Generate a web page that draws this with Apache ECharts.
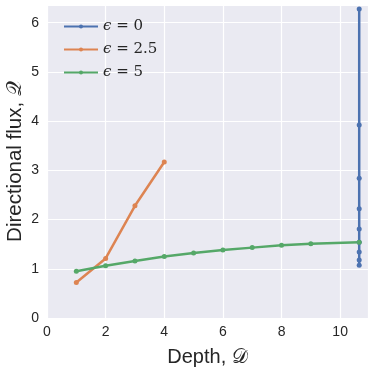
<!DOCTYPE html>
<html>
<head>
<meta charset="utf-8">
<script src="https://cdn.jsdelivr.net/npm/echarts@6/dist/echarts.min.js"></script>
<style>
html, body { margin: 0; padding: 0; background: #fff; }
#main { width: 374px; height: 372px; }
</style>
</head>
<body>
<div id="main"></div>
<script>
// values
var seriesNames = ['ϵ = 0', 'ϵ = 2.5', 'ϵ = 5'];
var eps0Depth = [10.65, 10.65, 10.65, 10.65, 10.65, 10.65, 10.65, 10.65, 10.65];
var eps0Flux = [6.28, 3.92, 2.84, 2.22, 1.81, 1.54, 1.34, 1.18, 1.07];
var eps25Depth = [1, 2, 3, 4];
var eps25Flux = [0.72, 1.21, 2.28, 3.17];
var eps5Depth = [1, 2, 3, 4, 5, 6, 7, 8, 9, 10.65];
var eps5Flux = [0.95, 1.06, 1.16, 1.25, 1.32, 1.38, 1.43, 1.48, 1.51, 1.54];
var colors = ['#4C72B0', '#DD8452', '#55A868'];

function pairs(xs, ys) {
  return xs.map(function (x, i) { return [x, ys[i]]; });
}

var chart = echarts.init(document.getElementById('main'));

function mkSeries(name, xs, ys) {
  return {
    name: name,
    type: 'line',
    data: pairs(xs, ys),
    symbol: 'circle',
    symbolSize: 5,
    showSymbol: true,
    lineStyle: { width: 2.5 },
    animation: false
  };
}

chart.setOption({
  color: colors,
  animation: false,
  grid: {
    left: 47, right: 6, top: 5, bottom: 54,
    containLabel: false, outerBoundsMode: 'none',
    show: true, backgroundColor: '#EAEAF2', borderWidth: 0
  },
  legend: {
    orient: 'vertical',
    left: 58, top: 14,
    itemWidth: 34, itemHeight: 5, itemGap: 8,
    data: seriesNames,
    formatter: function (n) {
      return '{e|ϵ}{n|' + n.slice(1) + '}';
    },
    textStyle: {
      color: '#262626',
      rich: {
        e: { fontFamily: 'DejaVu Serif', fontStyle: 'italic', fontSize: 15, color: '#262626' },
        n: { fontFamily: 'DejaVu Serif', fontSize: 15, color: '#262626' }
      }
    }
  },
  xAxis: {
    type: 'value', min: 0, max: 10.95, interval: 2,
    name: 'Depth, 𝒟', nameLocation: 'middle', nameGap: 29, nameMoveOverlap: false,
    nameTextStyle: { fontFamily: 'Liberation Sans', fontSize: 20, color: '#262626' },
    axisLine: { show: false }, axisTick: { show: false },
    axisLabel: {
      fontFamily: 'Liberation Sans', fontSize: 14, color: '#262626', margin: 7,
      formatter: function (v) { return v % 2 === 0 ? String(v) : ''; }
    },
    splitLine: { lineStyle: { color: '#ffffff', width: 1.2 } }
  },
  yAxis: {
    type: 'value', min: 0, max: 6.36, interval: 1,
    name: 'Directional flux, 𝒬', nameLocation: 'middle', nameGap: 21, nameMoveOverlap: false,
    nameTextStyle: { fontFamily: 'Liberation Sans', fontSize: 20.5, color: '#262626' },
    axisLine: { show: false }, axisTick: { show: false },
    axisLabel: {
      fontFamily: 'Liberation Sans', fontSize: 14, color: '#262626', margin: 8,
      formatter: function (v) { return v % 1 === 0 ? String(v) : ''; }
    },
    splitLine: { lineStyle: { color: '#ffffff', width: 1.2 } }
  },
  series: [
    mkSeries(seriesNames[0], eps0Depth, eps0Flux),
    mkSeries(seriesNames[1], eps25Depth, eps25Flux),
    mkSeries(seriesNames[2], eps5Depth, eps5Flux)
  ]
});
</script>
</body>
</html>
